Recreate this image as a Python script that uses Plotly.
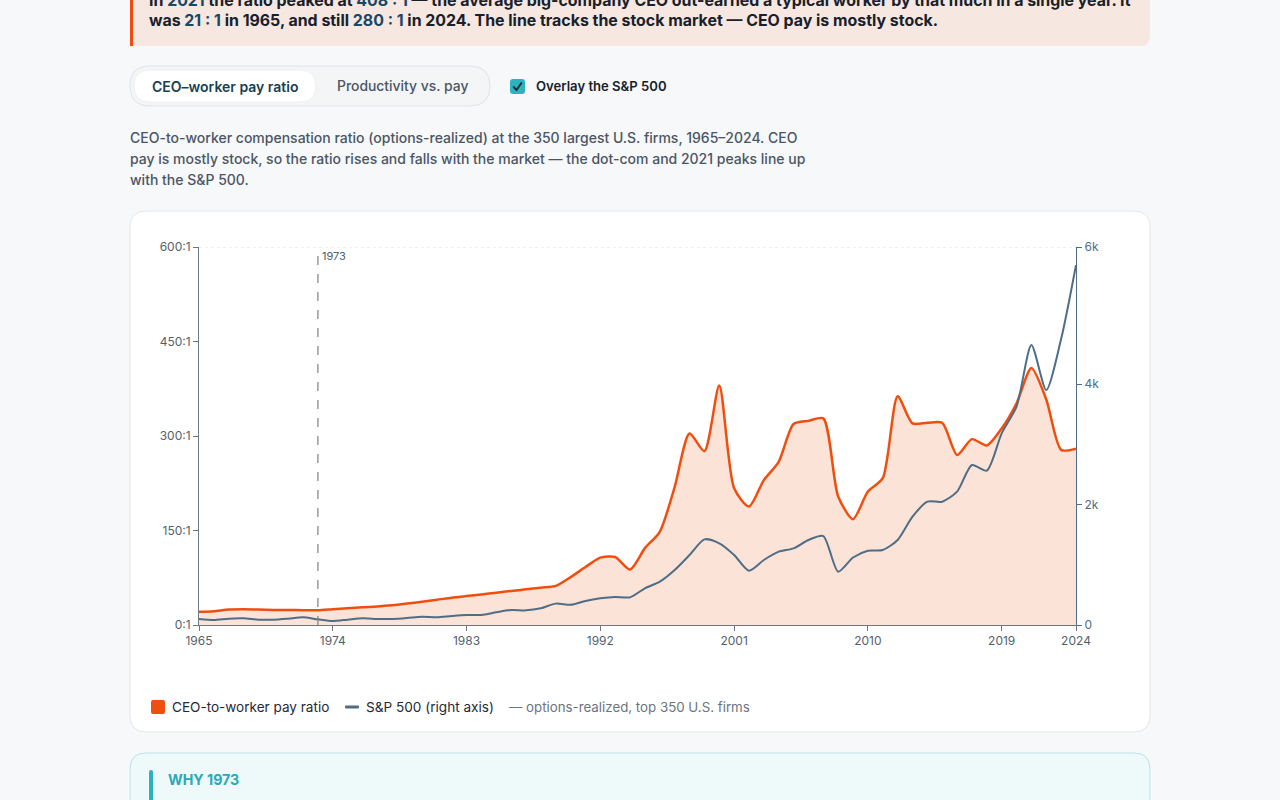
import plotly.graph_objects as go

# ---------------- data ----------------
years = list(range(1965, 2025))
ceo_ratio = [21, 22, 24.5, 25, 24.5, 24, 24, 23.5, 23.3, 25,
             26.5, 28, 29.5, 31.5, 34, 37, 40, 43.4, 46, 48.5,
             51.3, 54, 56.6, 59.3, 62, 76, 92, 107, 108, 88,
             122, 148, 219, 304, 276, 380, 217, 188, 230, 259,
             319, 324, 328, 204, 168, 212, 233, 363, 320, 321,
             321, 270, 295, 285, 312, 352, 408, 358, 278, 280]
sp500 = [100, 83, 105, 110, 88, 88, 105, 127, 94, 66,
         88, 110, 100, 100, 116, 138, 127, 149, 166, 166,
         210, 249, 243, 277, 355, 335, 400, 443, 465, 459,
         609, 719, 913, 1162, 1422, 1356, 1162, 901, 1079, 1217,
         1273, 1411, 1477, 885, 1120, 1234, 1245, 1411, 1798, 2047,
         2047, 2213, 2656, 2562, 3182, 3624, 4648, 3901, 4750, 5975]

x_ticks = [1965, 1974, 1983, 1992, 2001, 2010, 2019, 2024]
y_ticks = [0, 150, 300, 450, 600]
y_ticktext = ["0:1", "150:1", "300:1", "450:1", "600:1"]
y2_max = 6275
y2_ticks = [0, 2000, 4000, y2_max]
y2_ticktext = ["0", "2k", "4k", "6k"]
marker_year = 1973

# ---------------- style ----------------
W, H = 1280, 800
FONT = "Inter"
ORANGE = "#f04e0f"
FILL = "#fce3d7"
SLATE = "#4f6d86"
PAGE_BG = "#f6f8fa"
INK = "#17212b"
MUTED = "#4b5563"


def P(x, y):
    return x / W, 1 - y / H


def pt(x, y):
    a, b = P(x, y)
    return f"{a:.6f},{b:.6f}"


def rrect(x0, y0, x1, y1, r, tl=True, tr=True, br=True, bl=True):
    rtl, rtr, rbr, rbl = (r if tl else 0), (r if tr else 0), (r if br else 0), (r if bl else 0)
    s = f"M {pt(x0 + rtl, y0)} L {pt(x1 - rtr, y0)} "
    s += f"Q {pt(x1, y0)} {pt(x1, y0 + rtr)} " if rtr else ""
    s += f"L {pt(x1, y1 - rbr)} "
    s += f"Q {pt(x1, y1)} {pt(x1 - rbr, y1)} " if rbr else ""
    s += f"L {pt(x0 + rbl, y1)} "
    s += f"Q {pt(x0, y1)} {pt(x0, y1 - rbl)} " if rbl else ""
    s += f"L {pt(x0, y0 + rtl)} "
    s += f"Q {pt(x0, y0)} {pt(x0 + rtl, y0)} " if rtl else ""
    return s + "Z"


shapes = []


def box(x0, y0, x1, y1, r, fill, line=None, lw=1, **kw):
    shapes.append(dict(type="path", xref="paper", yref="paper", layer="below",
                       path=rrect(x0, y0, x1, y1, r, **kw), fillcolor=fill,
                       line=dict(color=line or "rgba(0,0,0,0)", width=lw if line else 0)))


# callout
box(130, -30, 1150, 46, 10, "#f7e7e1", tl=False, bl=False)
box(130, -30, 133, 46, 0, ORANGE)
# toggle pill
box(130, 66, 490, 106, 20, "#f3f5f7", line="#dfe4e9")
box(134, 70, 316, 102, 16, "#ffffff", line="#edf0f3")
# checkbox
box(510, 79, 525, 94, 3, "#2bb3c0")
shapes.append(dict(type="path", xref="paper", yref="paper", layer="above",
                   path=f"M {pt(513.2, 86.5)} L {pt(516.5, 90)} L {pt(521.8, 82.5)}",
                   line=dict(color="#1c2f3a", width=2)))
# chart card
box(130, 211, 1150, 732, 16, "#ffffff", line="#e2e7ec")
# bottom box
box(130, 753, 1150, 840, 16, "#eef9fa", line="#b9e3e8")
box(149, 770, 153, 805, 2, "#2bb3c0")
# legend marks
box(151, 700, 165, 714, 2, ORANGE)
box(345, 705.5, 359, 708.5, 1, SLATE)

# chart gridline at top & marker line (data coords)
shapes.append(dict(type="line", xref="x", yref="y", x0=years[0], x1=years[-1], y0=600, y1=600,
                   line=dict(color="#d9dee3", width=1, dash="dot"), layer="below"))
shapes.append(dict(type="line", xref="x", yref="y", x0=marker_year, x1=marker_year, y0=0, y1=600,
                   line=dict(color="#7b8189", width=1.2, dash="dash"), layer="above"))

fig = go.Figure()
fig.add_trace(go.Scatter(x=years, y=ceo_ratio, mode="lines", name="CEO-to-worker pay ratio",
                         line=dict(color=ORANGE, width=2.5, shape="spline", smoothing=0.7),
                         fill="tozeroy", fillcolor=FILL, yaxis="y", hoverinfo="skip"))
fig.add_trace(go.Scatter(x=years, y=sp500, mode="lines", name="S&P 500",
                         line=dict(color=SLATE, width=2, shape="spline", smoothing=0.7),
                         yaxis="y2", hoverinfo="skip"))

ann = []


def text(x, y, s, size=14, color=INK, weight=400, anchor="left", family=FONT):
    a, b = P(x, y)
    ann.append(dict(xref="paper", yref="paper", x=a, y=b, text=s, showarrow=False,
                    xanchor=anchor, yanchor="middle", align="left",
                    font=dict(family=family, size=size, color=color, weight=weight)))


HL = "#174866"
text(147, 0, f"In <span style='color:{HL}'>2021</span> the ratio peaked at "
     f"<span style='color:{HL}'>408 : 1</span> — the average big-company CEO out-earned a typical worker "
     f"by that much in a single year. It", size=15.9, weight=700)
text(147, 21, f"was <span style='color:{HL}'>21 : 1</span> in 1965, and still "
     f"<span style='color:{HL}'>280 : 1</span> in 2024. The line tracks the stock market — CEO pay is mostly stock.",
     size=15.9, weight=700)

text(225, 86, "CEO–worker pay ratio", size=14, color="#173f52", weight=600, anchor="center")
text(402, 86, "Productivity vs. pay", size=13.9, color=MUTED, weight=500, anchor="center")
text(534, 86, "Overlay the S&P 500", size=13.1, color=INK, weight=600)

para = ["CEO-to-worker compensation ratio (options-realized) at the 350 largest U.S. firms, 1965–2024. CEO",
        "pay is mostly stock, so the ratio rises and falls with the market — the dot-com and 2021 peaks line up",
        "with the S&P 500."]
for i, line in enumerate(para):
    text(128, 137 + 21 * i, line, size=14, color=MUTED, weight=500)

text(170, 707, "CEO-to-worker pay ratio", size=13.55, color="#1f2a36")
text(364, 707, "S&P 500 (right axis)", size=13.6, color="#1f2a36")
text(507, 707, "— options-realized, top 350 U.S. firms", size=13.3, color="#6b7480")

text(166, 779, "WHY 1973", size=14.2, color="#2aa9b8", weight=700)

# marker label
ann.append(dict(xref="x", yref="paper", x=marker_year, y=P(0, 256)[1], text="1973", showarrow=False,
                xanchor="left", yanchor="middle", xshift=2,
                font=dict(family=FONT, size=11, color="#555d66")))

xd = [199 / W, 1076 / W]
yd = [1 - 625 / H, 1 - 247 / H]
AX = "#6e7782"

fig.update_layout(
    width=W, height=H, margin=dict(l=0, r=0, t=0, b=0, pad=0, autoexpand=False),
    paper_bgcolor=PAGE_BG, plot_bgcolor="rgba(0,0,0,0)",
    showlegend=False, shapes=shapes, annotations=ann,
    font=dict(family=FONT, size=12, color="#555f6b"),
    xaxis=dict(domain=xd, range=[years[0], years[-1]], tickvals=x_ticks, showgrid=False, zeroline=False,
               showline=True, linecolor=AX, linewidth=1, ticks="outside", ticklen=5, tickcolor=AX,
               automargin=False, tickfont=dict(size=12, color="#555f6b")),
    yaxis=dict(domain=yd, range=[0, 600], tickvals=y_ticks, ticktext=y_ticktext, showgrid=False,
               zeroline=False, showline=True, linecolor=AX, linewidth=1, ticks="outside", ticklen=5,
               automargin=False, tickcolor=AX, tickfont=dict(size=12, color="#555f6b")),
    yaxis2=dict(overlaying="y", side="right", range=[0, y2_max], tickvals=y2_ticks, ticktext=y2_ticktext,
                showgrid=False, zeroline=False, showline=True, linecolor=SLATE, linewidth=1.2,
                automargin=False, ticks="outside", ticklen=5, tickcolor=SLATE,
                tickfont=dict(size=12, color=SLATE)),
)

fig.write_html("out.html", config=dict(displayModeBar=False))
